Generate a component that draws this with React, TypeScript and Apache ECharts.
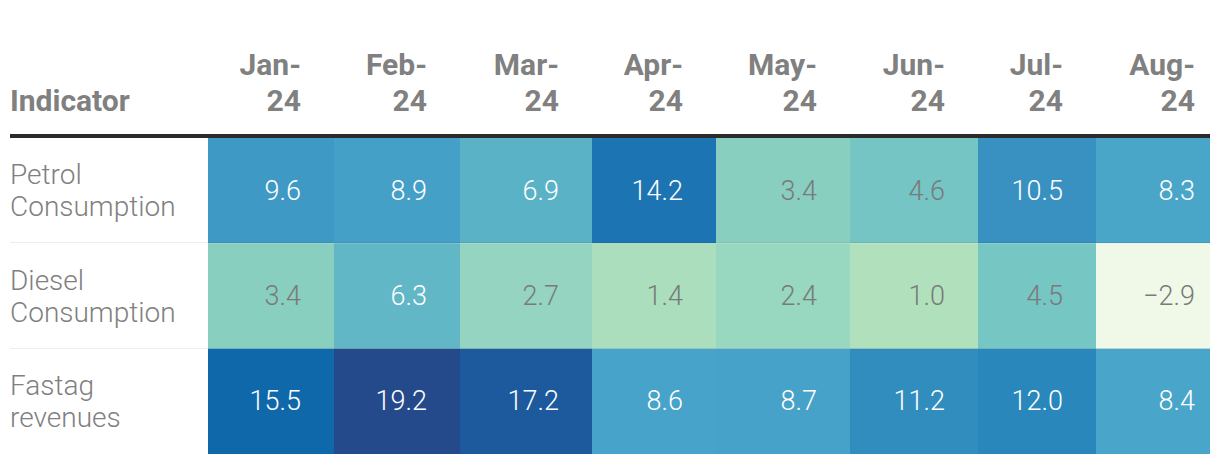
import React, { useEffect, useRef } from "react";
import * as echarts from "echarts";

// ---- data ----
const indicators = ["Petrol\nConsumption", "Diesel\nConsumption", "Fastag\nrevenues"];
const months = ["Jan-\n24", "Feb-\n24", "Mar-\n24", "Apr-\n24", "May-\n24", "Jun-\n24", "Jul-\n24", "Aug-\n24"];
const petrolConsumption = [9.6, 8.9, 6.9, 14.2, 3.4, 4.6, 10.5, 8.3];
const dieselConsumption = [3.4, 6.3, 2.7, 1.4, 2.4, 1.0, 4.5, -2.9];
const fastagRevenues = [15.5, 19.2, 17.2, 8.6, 8.7, 11.2, 12.0, 8.4];
const rows = [petrolConsumption, dieselConsumption, fastagRevenues];

// ---- colour scale stops (value -> colour) ----
const colorStops: [number, string][] = [
  [-2.9, "#f0f9e8"],
  [1.0, "#b1e0bc"],
  [2.4, "#98d7c0"],
  [3.4, "#89cfc0"],
  [4.6, "#74c5c4"],
  [6.9, "#5ab2c6"],
  [8.6, "#47a3c9"],
  [10.5, "#3891c1"],
  [12.0, "#2987bb"],
  [14.2, "#1c74b3"],
  [15.5, "#0e68ab"],
  [17.2, "#1d5a9d"],
  [19.2, "#254a8b"],
];

// ---- layout (table column widths, px) ----
const COL_WIDTHS = [126, 126, 132, 124, 134, 128, 118, 114];
const FONT = "Roboto, 'Noto Sans', sans-serif";

function hexToRgb(h: string): number[] {
  const s = h.replace("#", "");
  return [0, 2, 4].map((i) => parseInt(s.slice(i, i + 2), 16));
}
function parseColor(c: string): number[] {
  if (c.startsWith("#")) return hexToRgb(c);
  const m = c.match(/[\d.]+/g) || ["0", "0", "0"];
  return m.slice(0, 3).map(Number);
}
function toHex(rgb: number[]) {
  return "#" + rgb.map((v) => Math.round(v).toString(16).padStart(2, "0")).join("");
}
function buildRamp(stops: [number, string][], min: number, max: number, n: number) {
  const out: string[] = [];
  for (let i = 0; i < n; i++) {
    const v = min + ((max - min) * i) / (n - 1);
    let k = 0;
    while (k < stops.length - 2 && v > stops[k + 1][0]) k++;
    const [v0, c0] = stops[k];
    const [v1, c1] = stops[k + 1];
    const t = Math.max(0, Math.min(1, (v - v0) / (v1 - v0)));
    const a = hexToRgb(c0);
    const b = hexToRgb(c1);
    out.push(toHex(a.map((x, j) => x + (b[j] - x) * t)));
  }
  return out;
}
function luminance(c: string) {
  const [r, g, b] = parseColor(c).map((v) => {
    const s = v / 255;
    return s <= 0.04045 ? s / 12.92 : Math.pow((s + 0.055) / 1.055, 2.4);
  });
  return 0.2126 * r + 0.7152 * g + 0.0722 * b;
}
function fmt(v: number) {
  const s = Math.abs(v).toFixed(1);
  return v < 0 ? "\u2212" + s : s;
}

export default function App() {
  const ref = useRef<HTMLDivElement>(null);
  useEffect(() => {
    document.body.style.margin = "0";
    const chart = echarts.init(ref.current!, null, { renderer: "svg" });
    const colStarts: number[] = [];
    COL_WIDTHS.forEach((w, i) => colStarts.push(i === 0 ? 0 : colStarts[i - 1] + COL_WIDTHS[i - 1]));
    const total = COL_WIDTHS.reduce((a, b) => a + b, 0);
    const cells: number[][] = [];
    rows.forEach((vals, r) => vals.forEach((v, c) => cells.push([c, r, v])));
    const all = rows.flat();
    const vMin = Math.min(...all);
    const vMax = Math.max(...all);
    const lastCol = COL_WIDTHS.length - 1;

    const option: any = {
      animation: false,
      grid: { left: 208, right: 10, top: 138, bottom: 10 },
      xAxis: { type: "value", min: 0, max: total, show: false },
      yAxis: {
        type: "category",
        data: indicators,
        inverse: true,
        axisLine: { show: false },
        axisTick: { show: false },
        splitLine: { show: false },
        axisLabel: {
          align: "left",
          margin: 198,
          color: "#808080",
          fontFamily: FONT,
          fontWeight: 300,
          fontSize: 28,
          lineHeight: 32,
        },
      },
      visualMap: {
        type: "continuous",
        show: false,
        min: vMin,
        max: vMax,
        dimension: 2,
        seriesIndex: 0,
        inRange: { color: buildRamp(colorStops, vMin, vMax, 89) },
      },
      series: [
        {
          type: "custom",
          data: cells,
          encode: { x: 0, y: 1 },
          clip: false,
          renderItem: (params: any, api: any) => {
            const c = api.value(0) as number;
            const r = api.value(1) as number;
            const v = api.value(2) as number;
            const l = api.coord([colStarts[c], r]);
            const rt = api.coord([colStarts[c] + COL_WIDTHS[c], r]);
            const h = api.size([0, 1])[1];
            const fill = api.visual("color") as string;
            const pad = c === lastCol ? 15 : 33;
            const txt = luminance(fill) > 0.44 ? "#7a7a7a" : "#ffffff";
            return {
              type: "group",
              children: [
                {
                  type: "rect",
                  shape: { x: l[0], y: l[1] - h / 2, width: rt[0] - l[0], height: h },
                  style: { fill },
                },
                {
                  type: "text",
                  x: rt[0] - pad,
                  y: l[1],
                  style: {
                    text: fmt(v),
                    align: "right",
                    verticalAlign: "middle",
                    fill: txt,
                    fontFamily: FONT,
                    fontWeight: 300,
                    fontSize: 27,
                  },
                },
              ],
            };
          },
        },
        {
          type: "custom",
          data: months.map((m, i) => [i, 0]),
          encode: { x: 0, y: 1 },
          clip: false,
          silent: true,
          renderItem: (params: any, api: any) => {
            const c = api.value(0) as number;
            const rt = api.coord([colStarts[c] + COL_WIDTHS[c], 0]);
            const h = api.size([0, 1])[1];
            const top = rt[1] - h / 2;
            const pad = c === lastCol ? 15 : 33;
            return {
              type: "text",
              x: rt[0] - pad,
              y: top - 56,
              style: {
                text: months[c],
                align: "right",
                verticalAlign: "middle",
                fill: "#808080",
                fontFamily: FONT,
                fontWeight: 700,
                fontSize: 30,
                lineHeight: 36,
              },
            };
          },
        },
      ],
      graphic: [
        {
          type: "text",
          x: 10,
          y: 100,
          style: {
            text: "Indicator",
            verticalAlign: "middle",
            fill: "#808080",
            fontFamily: FONT,
            fontWeight: 700,
            fontSize: 30,
          },
        },
        {
          type: "line",
          shape: { x1: 10, y1: 136, x2: 1210, y2: 136 },
          style: { stroke: "#2b2b2b", lineWidth: 4 },
          z: 100,
        },
        {
          type: "line",
          shape: { x1: 10, y1: 242.5, x2: 1210, y2: 242.5 },
          style: { stroke: "rgba(0,0,0,0.07)", lineWidth: 1 },
          z: 100,
        },
        {
          type: "line",
          shape: { x1: 10, y1: 348.5, x2: 1210, y2: 348.5 },
          style: { stroke: "rgba(0,0,0,0.07)", lineWidth: 1 },
          z: 100,
        },
      ],
    };
    chart.setOption(option);
    return () => chart.dispose();
  }, []);
  return <div ref={ref} style={{ width: 1220, height: 464 }} />;
}
